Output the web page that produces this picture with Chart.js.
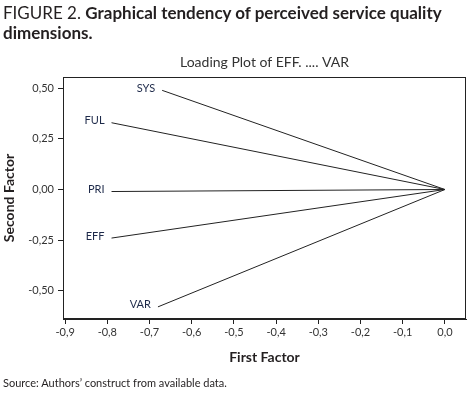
<!DOCTYPE html>
<html>
<head>
<meta charset="utf-8">
<script src="https://cdn.jsdelivr.net/npm/chart.js@4"></script>
<style>
  html, body { margin: 0; padding: 0; background: #fff; }
  #wrap { position: relative; width: 469px; height: 398px; overflow: hidden; }
  #caption {
    position: absolute; left: 3px; top: 3px;
    font-family: Lato, "Open Sans", sans-serif; font-size: 17px; line-height: 20px;
    color: #231f20;
  }
  #caption b { font-weight: bold; }
  #source {
    position: absolute; left: 3px; top: 376px;
    font-family: Lato, "Open Sans", sans-serif; font-size: 11px; color: #231f20;
  }
  canvas { position: absolute; left: 0; top: 0; }
</style>
</head>
<body>
<div id="wrap">
  <canvas id="loadingChart" width="469" height="398"></canvas>
  <div id="caption">FIGURE 2. <b>Graphical tendency of perceived service quality<br>dimensions.</b></div>
  <div id="source">Source: Authors’ construct from available data.</div>
</div>
<script>
// variáveis e cargas (primeiro e segundo fator)
const variaveis = ['SYS', 'FUL', 'PRI', 'EFF', 'VAR'];
const primeiroFator = [-0.67, -0.79, -0.79, -0.79, -0.68];
const segundoFator = [0.49, 0.33, -0.01, -0.24, -0.58];

const xTicks = [-0.9, -0.8, -0.7, -0.6, -0.5, -0.4, -0.3, -0.2, -0.1, 0.0];
const yTicks = [-0.50, -0.25, 0.00, 0.25, 0.50];

const tituloGrafico = 'Loading Plot of EFF. .... VAR';
const fonte = 'Lato, "Open Sans", sans-serif';
const corTexto = '#231f20';

// cada variável vira uma linha do ponto até a origem
const datasets = variaveis.map((nome, i) => ({
    label: nome,
    data: [{ x: primeiroFator[i], y: segundoFator[i] }, { x: 0, y: 0 }],
    borderColor: '#222',
    borderWidth: 1,
    pointRadius: 0,
    showLine: true,
    fill: false
}));

// moldura em volta da área do gráfico + título centrado nela
const moldura = {
    id: 'moldura',
    afterDraw(chart) {
        const { ctx, chartArea: a } = chart;
        ctx.save();
        ctx.strokeStyle = '#222';
        ctx.lineWidth = 1;
        ctx.strokeRect(a.left + 0.5, a.top + 0.5, a.right - a.left - 1, a.bottom - a.top - 1);
        ctx.font = '14px ' + fonte;
        ctx.fillStyle = '#333';
        ctx.textAlign = 'center';
        ctx.textBaseline = 'middle';
        ctx.fillText(tituloGrafico, (a.left + a.right) / 2, a.top - 15);
        ctx.restore();
    }
};

// rótulo de cada variável à esquerda do ponto
const rotulos = {
    id: 'rotulos',
    afterDatasetsDraw(chart) {
        const { ctx } = chart;
        ctx.save();
        ctx.font = '11px ' + fonte;
        ctx.fillStyle = '#1e2a4a';
        ctx.textAlign = 'right';
        ctx.textBaseline = 'middle';
        chart.data.datasets.forEach((ds, i) => {
            const p = chart.getDatasetMeta(i).data[0];
            ctx.fillText(ds.label, p.x - 7, p.y - 2);
        });
        ctx.restore();
    }
};

const formatar = (v, casas) => v.toFixed(casas).replace('.', ',');

new Chart(document.getElementById('loadingChart'), {
    type: 'scatter',
    data: { datasets },
    options: {
        responsive: false,
        animation: false,
        layout: { padding: { left: 0, top: 77, right: 3, bottom: 29 } },
        plugins: {
            legend: { display: false },
            tooltip: { enabled: false },
            title: { display: false }
        },
        scales: {
            x: {
                type: 'linear',
                min: -0.905,
                max: 0.05,
                afterFit: (s) => { s.height = 50; },
                afterBuildTicks: (s) => { s.ticks = xTicks.map(v => ({ value: v })); },
                border: { display: true, color: '#222' },
                grid: { drawOnChartArea: false, drawTicks: true, tickLength: 5, color: '#222' },
                ticks: {
                    color: '#333',
                    padding: 2,
                    font: { family: fonte, size: 11 },
                    callback: (v) => formatar(v, 1)
                },
                title: {
                    display: true,
                    text: 'First Factor',
                    color: corTexto,
                    font: { family: fonte, size: 14, weight: 'bold' },
                    padding: { top: 0, bottom: 3 }
                }
            },
            y: {
                type: 'linear',
                min: -0.64,
                max: 0.556,
                afterFit: (s) => { s.width = 63; },
                afterBuildTicks: (s) => { s.ticks = yTicks.map(v => ({ value: v })); },
                border: { display: true, color: '#222' },
                grid: { drawOnChartArea: false, drawTicks: true, tickLength: 5, color: '#222' },
                ticks: {
                    color: '#333',
                    padding: 4,
                    font: { family: fonte, size: 11 },
                    callback: (v) => formatar(v, 2)
                },
                title: {
                    display: true,
                    text: 'Second Factor',
                    color: corTexto,
                    font: { family: fonte, size: 14, weight: 'bold' },
                    padding: { top: 1, bottom: 0 }
                }
            }
        }
    },
    plugins: [moldura, rotulos]
});
</script>
</body>
</html>
